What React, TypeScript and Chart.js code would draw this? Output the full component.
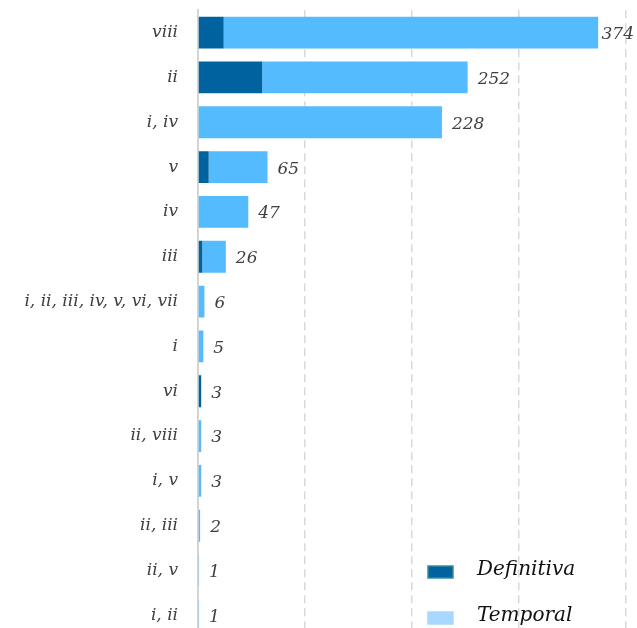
import React, { useEffect, useRef } from "react";
import { Chart, registerables } from "chart.js";

Chart.register(...registerables);

const categories = [
  "viii",
  "ii",
  "i, iv",
  "v",
  "iv",
  "iii",
  "i, ii, iii, iv, v, vi, vii",
  "i",
  "vi",
  "ii, viii",
  "i, v",
  "ii, iii",
  "ii, v",
  "i, ii",
];
const definitiva = [24, 60, 0, 10, 0, 4, 0, 0, 3, 0, 0, 0, 0, 0];
const temporal = [350, 192, 228, 55, 47, 22, 6, 5, 0, 3, 3, 2, 1, 1];
const xTicks = [0, 100, 200, 300, 400];

const DARK = "#0063a0";
const LIGHT = "#55bbff";
const LABEL_FONT = "italic 17px 'DejaVu Serif'";
const SHIFT = 20;
const CANVAS_H = 688;

const totalsPlugin = {
  id: "totals",
  afterDatasetsDraw(chart: any) {
    const { ctx } = chart;
    const xs = chart.scales.x;
    const ys = chart.scales.y;
    ctx.save();
    ctx.font = LABEL_FONT;
    ctx.fillStyle = "#404040";
    ctx.textBaseline = "middle";
    ctx.textAlign = "left";
    categories.forEach((_, i) => {
      const total = definitiva[i] + temporal[i];
      const txt = String(total);
      const w = ctx.measureText(txt).width;
      let x = xs.getPixelForValue(total) + 10;
      if (x + w > chart.width - 3) x = chart.width - 3 - w;
      const y = ys.getPixelForValue(i) + 2;
      ctx.fillText(txt, x, y);
    });
    ctx.restore();
  },
};

const legendPlugin = {
  id: "customLegend",
  afterDraw(chart: any) {
    const { ctx } = chart;
    const items = [
      { label: chart.data.datasets[0].label, fill: DARK, stroke: "#3a8aa0", y: 572 + SHIFT },
      { label: chart.data.datasets[1].label, fill: "#a8d8ff", stroke: "#a8d8ff", y: 618 + SHIFT },
    ];
    ctx.save();
    items.forEach((it) => {
      ctx.fillStyle = it.fill;
      ctx.fillRect(428, it.y - 6, 25, 12);
      ctx.strokeStyle = it.stroke;
      ctx.lineWidth = 1.5;
      ctx.strokeRect(428, it.y - 6, 25, 12);
      ctx.fillStyle = "#111111";
      ctx.font = "italic 20px 'DejaVu Serif'";
      ctx.textBaseline = "middle";
      ctx.textAlign = "left";
      ctx.fillText(it.label, 477, it.y - 2);
    });
    ctx.restore();
  },
};

export default function App() {
  const ref = useRef<HTMLCanvasElement | null>(null);
  useEffect(() => {
    document.body.style.margin = "0";
    document.body.style.overflow = "hidden";
    const chart = new Chart(ref.current as HTMLCanvasElement, {
      type: "bar",
      data: {
        labels: categories,
        datasets: [
          { label: "Definitiva", data: definitiva, backgroundColor: DARK, barPercentage: 0.71, categoryPercentage: 1 },
          { label: "Temporal", data: temporal, backgroundColor: LIGHT, barPercentage: 0.71, categoryPercentage: 1 },
        ],
      },
      options: {
        indexAxis: "y",
        animation: false,
        responsive: false,
        layout: { padding: { top: 10, right: 11, bottom: 0, left: 0 } },
        plugins: { legend: { display: false }, tooltip: { enabled: false } },
        scales: {
          x: {
            stacked: true,
            min: 0,
            max: 400,
            afterBuildTicks: (s: any) => {
              s.ticks = xTicks.map((v) => ({ value: v }));
            },
            afterFit: (s: any) => {
              s.height = 0;
            },
            ticks: { display: false },
            border: { display: false, dash: [8, 5] },
            grid: {
              color: (c: any) => (c.tick && c.tick.value === 0 ? "rgba(0,0,0,0)" : "#d9d9d9"),
              lineWidth: 1.5,
              tickLength: 0,
              drawTicks: false,
            },
          },
          y: {
            stacked: true,
            afterFit: (s: any) => {
              s.width = 198;
            },
            grid: { display: false, drawTicks: false },
            border: { display: true, color: "#d4d4d4", width: 2 },
            ticks: {
              color: "#404040",
              padding: 20,
              font: { family: "'DejaVu Serif'", size: 17, style: "italic" },
            },
          },
        },
      },
      plugins: [totalsPlugin, legendPlugin],
    } as any);
    return () => chart.destroy();
  }, []);
  return (
    <div style={{ position: "absolute", left: 0, top: -SHIFT, width: 637, height: CANVAS_H }}>
      <canvas ref={ref} width={637} height={CANVAS_H} style={{ width: 637, height: CANVAS_H }} />
    </div>
  );
}
